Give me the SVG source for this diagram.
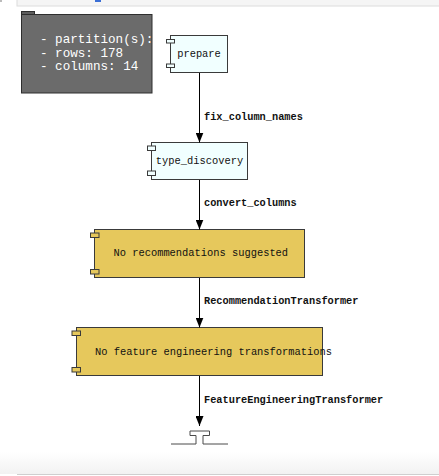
<svg xmlns="http://www.w3.org/2000/svg" width="439" height="476" viewBox="0 0 439 476">
<defs>
<style>
.mono{font-family:"Liberation Mono","Courier New",monospace;font-size:10.4px;fill:#111;}
.lbl{font-family:"Liberation Mono","Courier New",monospace;font-size:10.3px;font-weight:bold;fill:#111;}
.note{font-family:"Liberation Mono","Courier New",monospace;font-size:12.6px;fill:#fff;}
.blue{fill:#F1FFFF;stroke:#3a3a3a;stroke-width:1;}
.yellow{fill:#E6C85C;stroke:#3a3a3a;stroke-width:1;}
.edge{stroke:#000;stroke-width:1;fill:none;marker-end:url(#arr);}
</style>
<marker id="arr" markerUnits="userSpaceOnUse" markerWidth="10" markerHeight="8" refX="10" refY="4" orient="auto">
<path d="M0,0 L10,4 L0,8 Z" fill="#000"/>
</marker>
<linearGradient id="fade" x1="0" y1="0" x2="0" y2="1">
<stop offset="0" stop-color="#ffffff"/>
<stop offset="1" stop-color="#f2f2f2"/>
</linearGradient>
</defs>
<rect x="0" y="0" width="439" height="476" fill="#fff"/>
<g id="chrome">
<rect x="17" y="-1" width="423" height="7" fill="#f5f5f5" stroke="#dcdcdc" stroke-width="1"/>
<rect x="95" y="0" width="6" height="2" fill="#3b6fd6"/>
<rect x="0" y="0" width="2" height="2" fill="#bbb"/>
<rect x="0" y="452" width="439" height="22" fill="url(#fade)"/>
<line x1="17" y1="474.5" x2="439" y2="474.5" stroke="#cfcfcf" stroke-width="1"/>
</g>
<g id="note">
<rect x="21.5" y="11.5" width="13" height="3.5" fill="#5e5e5e" stroke="#2e2e2e" stroke-width="1"/>
<rect x="21.5" y="14.5" width="130.5" height="78.5" fill="#6b6b6b" stroke="#2e2e2e" stroke-width="1"/>
<text class="note" x="40" y="43">- partition(s):</text>
<text class="note" x="40" y="56.5">- rows: 178</text>
<text class="note" x="40" y="70">- columns: 14</text>
</g>
<g id="prepare">
<rect class="blue" x="170.5" y="35.5" width="57" height="37"/>
<rect class="blue" x="166.5" y="39.5" width="8" height="3.5"/>
<rect class="blue" x="166.5" y="64" width="8" height="3.5"/>
<text class="mono" x="199" y="57" text-anchor="middle">prepare</text>
</g>
<g id="type_discovery">
<rect class="blue" x="151.5" y="142.5" width="96" height="37"/>
<rect class="blue" x="147.5" y="146" width="8" height="4.5"/>
<rect class="blue" x="147.5" y="171" width="8" height="4.5"/>
<text class="mono" x="199.5" y="163.5" text-anchor="middle">type_discovery</text>
</g>
<g id="no_recommendations">
<rect class="yellow" x="94.5" y="229.5" width="210" height="48"/>
<rect class="yellow" x="90.5" y="233" width="8.5" height="4.5"/>
<rect class="yellow" x="90.5" y="269.5" width="8.5" height="4.5"/>
<text class="mono" x="113.5" y="256">No recommendations suggested</text>
</g>
<g id="no_feature_engineering">
<rect class="yellow" x="76.5" y="327.5" width="246" height="48"/>
<rect class="yellow" x="72" y="331" width="8.5" height="4.5"/>
<rect class="yellow" x="72" y="367.5" width="8.5" height="4.5"/>
<text class="mono" x="95" y="354.5">No feature engineering transformations</text>
</g>
<g id="output">
<path d="M171,444 L196,444 L196,435.5 L190,435.5 L190,431 L209.5,431 L209.5,435.5 L203,435.5 L203,444 L228,444" fill="#fff" stroke="#4a4a4a" stroke-width="1"/>
</g>
<g id="connectors">
<line class="edge" x1="199.5" y1="73" x2="199.5" y2="142.5"/>
<line class="edge" x1="199.5" y1="180" x2="199.5" y2="229.5"/>
<line class="edge" x1="199.5" y1="278" x2="199.5" y2="327.5"/>
<line class="edge" x1="199.5" y1="376" x2="199.5" y2="426"/>
<text class="lbl" x="204" y="119.5">fix_column_names</text>
<text class="lbl" x="204" y="206">convert_columns</text>
<text class="lbl" x="204" y="303.5">RecommendationTransformer</text>
<text class="lbl" x="204" y="402.5">FeatureEngineeringTransformer</text>
</g>
</svg>
